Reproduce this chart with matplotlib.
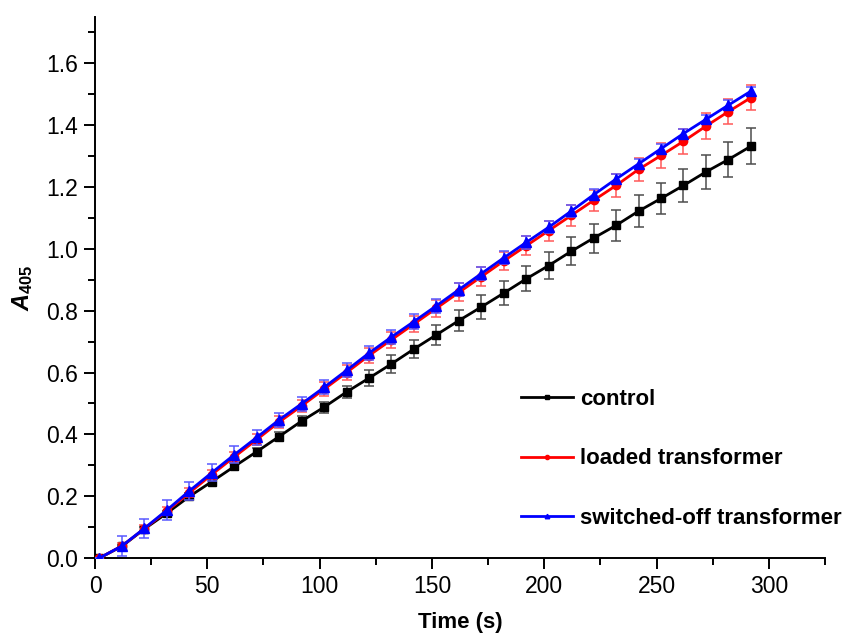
import numpy as np
import matplotlib
matplotlib.use('Agg')
import matplotlib.pyplot as plt

plt.rcParams['font.family'] = ['Liberation Sans', 'DejaVu Sans']
plt.rcParams['mathtext.fontset'] = 'custom'
plt.rcParams['mathtext.it'] = 'Liberation Sans:italic:bold'
plt.rcParams['mathtext.rm'] = 'Liberation Sans:bold'

time_s = [2, 12, 22, 32, 42, 52, 62, 72, 82, 92, 102, 112, 122, 132, 142,
          152, 162, 172, 182, 192, 202, 212, 222, 232, 242, 252, 262, 272, 282, 292]

control = [0.0, 0.038, 0.094, 0.145, 0.199, 0.247, 0.296, 0.344, 0.393, 0.443,
           0.488, 0.537, 0.582, 0.628, 0.676, 0.722, 0.768, 0.812, 0.857, 0.903,
           0.946, 0.992, 1.035, 1.076, 1.122, 1.163, 1.205, 1.249, 1.289, 1.332]
control_err = [0.0, 0.004, 0.006, 0.008, 0.010, 0.010, 0.011, 0.012, 0.013, 0.015,
               0.018, 0.020, 0.026, 0.028, 0.030, 0.032, 0.035, 0.038, 0.040, 0.040,
               0.043, 0.045, 0.047, 0.050, 0.051, 0.050, 0.054, 0.054, 0.057, 0.058]

loaded = [0.0, 0.039, 0.095, 0.152, 0.211, 0.270, 0.327, 0.383, 0.440, 0.492,
          0.546, 0.600, 0.655, 0.706, 0.757, 0.808, 0.859, 0.910, 0.961, 1.010,
          1.059, 1.108, 1.157, 1.205, 1.257, 1.302, 1.348, 1.397, 1.444, 1.489]
loaded_err = [0.0, 0.010, 0.012, 0.014, 0.015, 0.016, 0.017, 0.018, 0.020, 0.020,
              0.022, 0.024, 0.025, 0.026, 0.027, 0.028, 0.029, 0.030, 0.030, 0.031,
              0.032, 0.033, 0.034, 0.036, 0.038, 0.039, 0.040, 0.042, 0.040, 0.040]

switched_off = [0.0, 0.039, 0.096, 0.155, 0.217, 0.276, 0.334, 0.390, 0.447, 0.499,
                0.552, 0.607, 0.663, 0.715, 0.765, 0.816, 0.868, 0.920, 0.971, 1.021,
                1.070, 1.122, 1.175, 1.226, 1.275, 1.324, 1.373, 1.419, 1.465, 1.510]
switched_off_err = [0.0, 0.032, 0.031, 0.031, 0.030, 0.028, 0.027, 0.025, 0.023, 0.023,
                    0.023, 0.023, 0.024, 0.024, 0.023, 0.023, 0.022, 0.022, 0.021, 0.021,
                    0.020, 0.019, 0.018, 0.017, 0.016, 0.015, 0.015, 0.015, 0.015, 0.015]

series = [
    ('control', control, control_err, 'black', (0.3, 0.3, 0.3), 's', 5.5),
    ('loaded transformer', loaded, loaded_err, 'red', (1, 0.35, 0.35), 'o', 6),
    ('switched-off transformer', switched_off, switched_off_err, 'blue', (0.35, 0.35, 1), '^', 6.5),
]

fig = plt.figure(figsize=(8.47, 6.35), dpi=100)
ax = fig.add_axes([95 / 847, 1 - 558 / 635, 730 / 847, 541 / 635])

handles = []
for i, (name, y, err, col, ecol, mk, ms) in enumerate(series):
    ax.errorbar(time_s, y, yerr=err, fmt='none', ecolor=ecol, elinewidth=1.1,
                capsize=3.4, capthick=1.1, zorder=2 + 2 * i)
    h, = ax.plot(time_s, y, color=col, marker=mk, markersize=ms, lw=2.0,
                 label=name, zorder=3 + 2 * i)
    handles.append(h)

ax.set_xlim(0, 325)
ax.set_ylim(0, 1.75)
ax.set_xticks([0, 50, 100, 150, 200, 250, 300])
ax.set_xticks(np.arange(25, 326, 50), minor=True)
ax.set_yticks(np.arange(0, 1.61, 0.2))
ax.set_yticks(np.arange(0.1, 1.75, 0.2), minor=True)
ax.yaxis.set_major_formatter(matplotlib.ticker.FormatStrFormatter('%.1f'))

ax.spines['top'].set_visible(False)
ax.spines['right'].set_visible(False)
for s in ('left', 'bottom'):
    ax.spines[s].set_linewidth(1.4)
ax.tick_params(which='major', direction='out', length=8, width=1.4, labelsize=16.5, pad=4)
ax.tick_params(which='minor', direction='out', length=5, width=1.4)

ax.set_xlabel('Time (s)', fontsize=16, fontweight='bold', labelpad=10)
ax.set_ylabel(r'$\mathit{A}_{\mathit{405}}$', fontsize=17, labelpad=8)

ax.legend(handles=handles, loc='upper left', bbox_to_anchor=(0.5836, 0.312),
          frameon=False, borderpad=0, borderaxespad=0, handlelength=2.35,
          handletextpad=0.3, labelspacing=1.72, markerscale=0.5,
          prop={'size': 16, 'weight': 'bold'})

fig.savefig('out.png', dpi=100)
